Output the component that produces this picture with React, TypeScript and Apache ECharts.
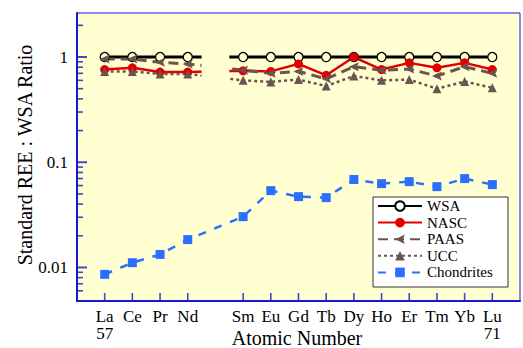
import React, { useEffect, useRef } from "react";
import * as echarts from "echarts";

// Rare earth elements (Pm, 61, is not reported)
const elements = ["La", "Ce", "Pr", "Nd", "Sm", "Eu", "Gd", "Tb", "Dy", "Ho", "Er", "Tm", "Yb", "Lu"];
const atomicNumbers = [57, 58, 59, 60, 62, 63, 64, 65, 66, 67, 68, 69, 70, 71];
const missingNumber = 61;

// Standard REE abundances normalised to WSA
const seriesNames = ["WSA", "NASC", "PAAS", "UCC", "Chondrites"];
const wsa = [1, 1, 1, 1, 1, 1, 1, 1, 1, 1, 1, 1, 1, 1];
const nasc = [0.76, 0.79, 0.72, 0.72, 0.74, 0.73, 0.86, 0.67, 1.0, 0.76, 0.88, 0.79, 0.88, 0.76];
const paas = [0.96, 0.96, 0.89, 0.86, 0.75, 0.7, 0.73, 0.62, 0.81, 0.75, 0.77, 0.66, 0.81, 0.7];
const ucc = [0.73, 0.73, 0.69, 0.69, 0.6, 0.58, 0.61, 0.53, 0.66, 0.6, 0.61, 0.5, 0.585, 0.51];
const chondrites = [0.0086, 0.0111, 0.0133, 0.0184, 0.0304, 0.0537, 0.0471, 0.0461, 0.0685, 0.0626, 0.0654, 0.0586, 0.0699, 0.0613];

// Log-axis ticks
const yMajorTicks = [0.01, 0.1, 1];
const yMinorTicks = [
  0.006, 0.007, 0.008, 0.009,
  0.02, 0.03, 0.04, 0.05, 0.06, 0.07, 0.08, 0.09,
  0.2, 0.3, 0.4, 0.5, 0.6, 0.7, 0.8, 0.9,
  2,
];

const X_MIN = 56;
const X_MAX = 72;
const Y_MIN = 0.0048;
const Y_MAX = 2.62;

const FONT = "Liberation Serif";
const AXIS_BLUE = "#1818cc";
const PLOT_BG = "#ffffd2";
const BROWN = "#6b5450";
const LEGEND_TEXT = { fontFamily: FONT, fontSize: 15, color: "#000", lineHeight: 16 };

const pairs = (vals: number[]) => atomicNumbers.map((n, i) => [n, vals[i]]);

export default function App() {
  const ref = useRef<HTMLDivElement>(null);

  useEffect(() => {
    if (!ref.current) return;
    const chart = echarts.init(ref.current, null, { renderer: "svg" });

    const symbolOf = new Map<number, string>();
    atomicNumbers.forEach((n, i) => symbolOf.set(n, elements[i]));
    const firstN = atomicNumbers[0];
    const lastN = atomicNumbers[atomicNumbers.length - 1];

    const lineSeries = (name: string, vals: number[], extra: any) => ({
      name,
      type: "line",
      data: pairs(vals),
      ...extra,
    });

    const dataSeries = [
      lineSeries("WSA", wsa, {
        symbol: "circle",
        symbolSize: 9,
        lineStyle: { color: "#000", width: 3 },
        itemStyle: { color: PLOT_BG, borderColor: "#000", borderWidth: 1.2 },
      }),
      lineSeries("NASC", nasc, {
        symbol: "circle",
        symbolSize: 9,
        lineStyle: { color: "#e00000", width: 2.5 },
        itemStyle: { color: "#e00000" },
      }),
      lineSeries("PAAS", paas, {
        symbol: "path://M0,5 L10,0 L8,5 L10,10 Z",
        symbolSize: [10, 9],
        lineStyle: { color: BROWN, width: 3, type: [10, 6] },
        itemStyle: { color: BROWN },
      }),
      lineSeries("UCC", ucc, {
        symbol: "triangle",
        symbolSize: 9,
        lineStyle: { color: BROWN, width: 2.5, type: [3, 3] },
        itemStyle: { color: BROWN },
      }),
      lineSeries("Chondrites", chondrites, {
        symbol: "rect",
        symbolSize: 9,
        lineStyle: { color: "#2a6fff", width: 2.5, type: [8, 9] },
        itemStyle: { color: "#2a6fff" },
      }),
    ];

    chart.setOption({
      animation: false,
      grid: {
        left: 77,
        top: 13,
        width: 453.5,
        height: 288,
        show: true,
        z: -1,
        backgroundColor: PLOT_BG,
        borderColor: AXIS_BLUE,
        borderWidth: 1,
      },
      xAxis: {
        type: "value",
        min: X_MIN,
        max: X_MAX,
        interval: 1,
        z: 3,
        splitLine: { show: false },
        axisTick: { show: false },
        axisLine: { lineStyle: { color: AXIS_BLUE, width: 2 } },
        axisLabel: {
          margin: 7,
          fontFamily: FONT,
          fontSize: 17,
          lineHeight: 17,
          color: "#000",
          formatter: (v: number) => {
            const s = symbolOf.get(Math.round(v));
            if (!s) return "";
            if (v === firstN || v === lastN) return s + "\n" + v;
            return s;
          },
        },
      },
      yAxis: {
        type: "log",
        logBase: 10,
        min: Y_MIN,
        max: Y_MAX,
        z: 3,
        splitLine: { show: false },
        axisTick: { show: false },
        axisLine: { lineStyle: { color: AXIS_BLUE, width: 2 } },
        axisLabel: {
          margin: 9,
          fontFamily: FONT,
          fontSize: 17,
          color: "#000",
          formatter: (v: number) => {
            const l = Math.log10(v);
            const r = Math.round(l);
            if (Math.abs(l - r) > 1e-6) return "";
            return r >= 0 ? String(Math.pow(10, r)) : Math.pow(10, r).toFixed(-r);
          },
        },
      },
      legend: {
        orient: "vertical",
        left: 377,
        top: 198,
        padding: 0,
        itemWidth: 44,
        itemHeight: 12,
        itemGap: 0.6,
        z: 11,
        textStyle: LEGEND_TEXT,
        data: seriesNames.map((name) =>
          name === "WSA"
            ? { name, itemStyle: { color: "#fff" }, textStyle: LEGEND_TEXT }
            : { name, textStyle: LEGEND_TEXT }
        ),
      },
      series: dataSeries,
    });

    // Inward tick marks: centred a few pixels inside the axes, placed through the axes' scales
    const px = (x: number, y: number) => chart.convertToPixel({ gridIndex: 0 }, [x, y]) as number[];
    const toData = (x: number, y: number) => chart.convertFromPixel({ gridIndex: 0 }, [x, y]) as number[];

    const yTickAt = (v: number, len: number) => {
      const p = px(X_MIN, v);
      return toData(p[0] + len / 2, p[1]);
    };
    const xTickAt = (n: number, len: number) => {
      const p = px(n, Y_MIN);
      return toData(p[0], p[1] - len / 2);
    };
    const tickSeries = (name: string, data: number[][], size: number[]) => ({
      name,
      type: "scatter",
      z: 6,
      symbol: "rect",
      symbolSize: size,
      itemStyle: { color: AXIS_BLUE },
      data,
    });

    const gapA = px(missingNumber - 0.5, 2.2);
    const gapB = px(missingNumber + 0.5, 0.3);

    chart.setOption({
      series: [
        ...dataSeries,
        tickSeries("yMajor", yMajorTicks.map((v) => yTickAt(v, 10)), [10, 2]),
        tickSeries("yMinor", yMinorTicks.map((v) => yTickAt(v, 6)), [6, 1.6]),
        tickSeries("xMajor", atomicNumbers.map((n) => xTickAt(n, 8)), [1.6, 8]),
      ],
      graphic: [
        {
          // Break in the standard curves at Pm
          type: "rect",
          z: 5,
          silent: true,
          shape: { x: gapA[0], y: gapA[1], width: gapB[0] - gapA[0], height: gapB[1] - gapA[1] },
          style: { fill: PLOT_BG },
        },
        {
          type: "rect",
          z: 10,
          shape: { x: 373, y: 197, width: 135, height: 90 },
          style: { fill: "#fff", stroke: "#333", lineWidth: 1 },
        },
        {
          type: "text",
          x: 297,
          y: 338,
          style: {
            text: "Atomic Number",
            fontFamily: FONT,
            fontSize: 20,
            fill: "#000",
            align: "center",
            verticalAlign: "middle",
          },
        },
        {
          type: "text",
          x: 25,
          y: 155,
          rotation: Math.PI / 2,
          style: {
            text: "Standard REE : WSA Ratio",
            fontFamily: FONT,
            fontSize: 20,
            fill: "#000",
            align: "center",
            verticalAlign: "middle",
          },
        },
      ],
    });

    return () => chart.dispose();
  }, []);

  return (
    <div
      ref={ref}
      style={{ position: "absolute", left: 0, top: 0, width: 523, height: 348, background: "#fff" }}
    />
  );
}
